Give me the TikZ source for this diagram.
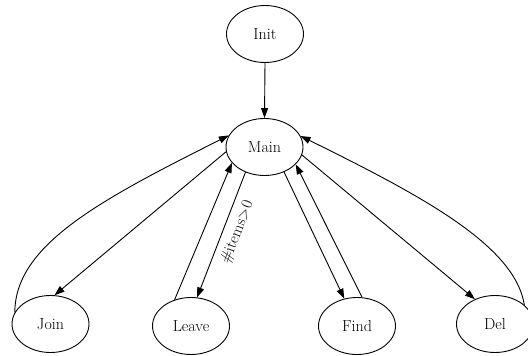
\documentclass[tikz,border=0pt]{standalone}
\usetikzlibrary{shapes.geometric,arrows.meta}
\begin{document}
\begin{tikzpicture}[x=1pt,y=-1pt,
  state/.style={draw, ellipse, line width=0.9pt, minimum width=77pt, minimum height=57pt,
    inner sep=0pt, font=\fontsize{16}{19}\selectfont},
  edge/.style={line width=0.9pt, -{Triangle[length=10pt,width=7pt]}},
  lbl/.style={font=\fontsize{16}{19}\selectfont, inner sep=1pt}]
  \useasboundingbox (0,0) rectangle (528,356);

  % states
  \node[state] (init)  at (265,34)    {Init};
  \node[state] (main)  at (264.5,147) {Main};
  \node[state] (join)  at (50.5,324)  {Join};
  \node[state] (leave) at (191,326)   {Leave};
  \node[state] (find)  at (357,326)   {Find};
  \node[state] (del)   at (495,324)   {Del};

  % transitions
  \draw[edge] (init.south) -- (main.north);

  \draw[edge] (main.187) -- (join.82);
  \draw[edge] (join.162) .. controls (15,245) and (100,200) .. (main.162);

  \draw[edge] (main.233) -- (leave.78)
    node[pos=0.48, xshift=15pt, rotate=68.8, lbl] (cond) {\#items>0};
  \draw[edge] (leave.122) -- (main.206);

  \draw[edge] (main.308) -- (find.115);
  \draw[edge] (find.80) -- (main.331);

  \draw[edge] (main.348) -- (del.129);
  \draw[edge] (del.33) .. controls (515,245) and (420,195) .. (main.17);
\end{tikzpicture}
\end{document}
